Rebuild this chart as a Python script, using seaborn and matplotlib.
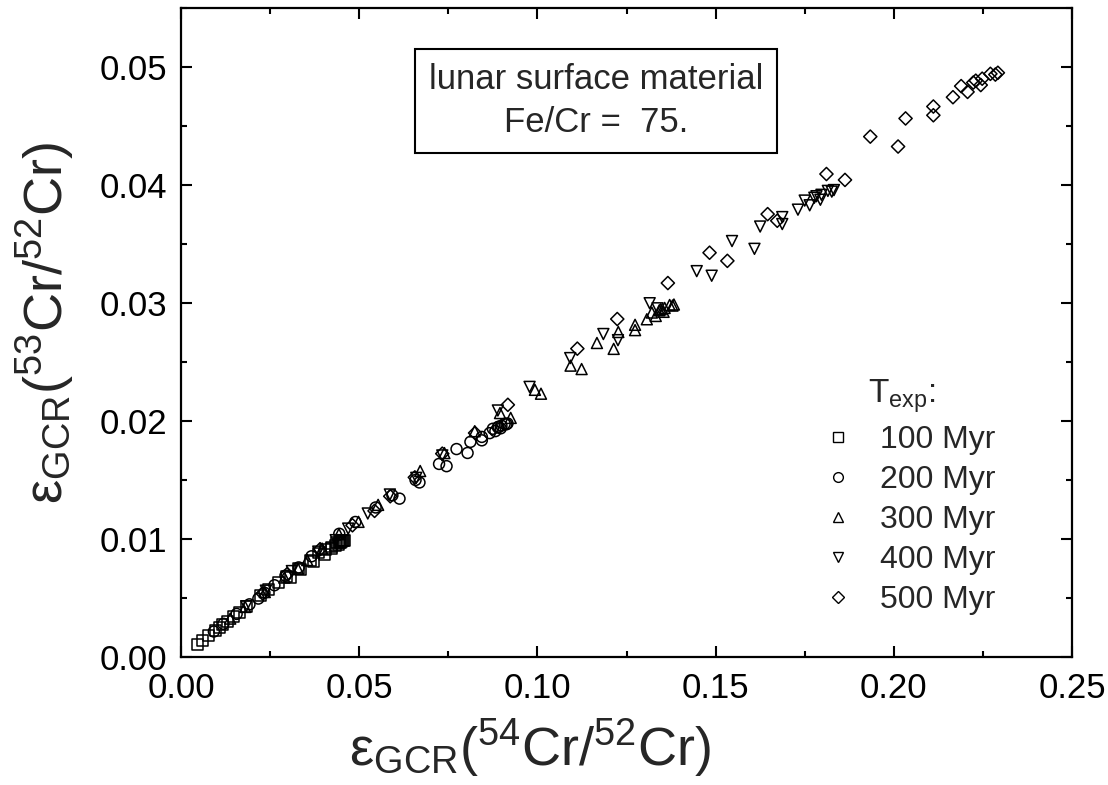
import numpy as np
import pandas as pd
import seaborn as sns
import matplotlib
matplotlib.use('Agg')
import matplotlib.pyplot as plt
from matplotlib.ticker import MultipleLocator

sns.set_style('ticks')
plt.rcParams['font.family'] = ['Liberation Sans', 'DejaVu Sans']
plt.rcParams['mathtext.fontset'] = 'custom'
plt.rcParams['mathtext.rm'] = 'Liberation Sans'
plt.rcParams['mathtext.it'] = 'Liberation Sans:italic'
plt.rcParams['mathtext.bf'] = 'Liberation Sans:bold'

# exposure ages and marker per series
exposure = ['100 Myr', '200 Myr', '300 Myr', '400 Myr', '500 Myr']
markers = ['s', 'o', '^', 'v', 'D']

# 100 Myr (squares)
x100 = [0.0046, 0.0060, 0.0078, 0.0096, 0.0109, 0.0117, 0.0131, 0.0147, 0.0165, 0.0183,
        0.0222, 0.0245, 0.0273, 0.0296, 0.0306, 0.0329, 0.0334, 0.0362, 0.0372, 0.0387,
        0.0402, 0.0406, 0.0422, 0.0422, 0.0433, 0.0437, 0.0441, 0.0444, 0.0446, 0.0448,
        0.0449, 0.0454, 0.0457, 0.0458]
y100 = [0.00108, 0.00141, 0.00182, 0.00223, 0.00248, 0.00272, 0.00304, 0.00345, 0.00379, 0.00427,
        0.00522, 0.00573, 0.00633, 0.00684, 0.00671, 0.00750, 0.00739, 0.00818, 0.00808, 0.00881,
        0.00865, 0.00912, 0.00932, 0.00917, 0.00948, 0.00967, 0.00957, 0.00973, 0.00976, 0.00968,
        0.00979, 0.00988, 0.00986, 0.00989]

# 200 Myr (circles)
x200 = [0.0092, 0.0119, 0.0156, 0.0192, 0.0217, 0.0234, 0.0262, 0.0293, 0.0330, 0.0366,
        0.0444, 0.0489, 0.0546, 0.0593, 0.0613, 0.0658, 0.0669, 0.0724, 0.0745, 0.0773,
        0.0804, 0.0812, 0.0844, 0.0844, 0.0866, 0.0875, 0.0882, 0.0889, 0.0891, 0.0897,
        0.0899, 0.0908, 0.0913, 0.0916]
y200 = [0.00216, 0.00281, 0.00365, 0.00446, 0.00495, 0.00544, 0.00608, 0.00689, 0.00759, 0.00853,
        0.01044, 0.01144, 0.01267, 0.01370, 0.01342, 0.01500, 0.01479, 0.01636, 0.01617, 0.01762,
        0.01729, 0.01823, 0.01865, 0.01836, 0.01897, 0.01934, 0.01914, 0.01947, 0.01951, 0.01938,
        0.01960, 0.01976, 0.01972, 0.01979]

# 300 Myr (up triangles)
x300 = [0.0138, 0.0180, 0.0235, 0.0290, 0.0328, 0.0354, 0.0396, 0.0443, 0.0498, 0.0553,
        0.0671, 0.0739, 0.0824, 0.0895, 0.0925, 0.0993, 0.1010, 0.1093, 0.1124, 0.1167,
        0.1214, 0.1227, 0.1274, 0.1274, 0.1307, 0.1321, 0.1332, 0.1342, 0.1346, 0.1354,
        0.1357, 0.1371, 0.1379, 0.1383]
y300 = [0.00325, 0.00424, 0.00550, 0.00673, 0.00748, 0.00821, 0.00918, 0.01040, 0.01145, 0.01289,
        0.01576, 0.01728, 0.01913, 0.02067, 0.02026, 0.02264, 0.02231, 0.02469, 0.02440, 0.02661,
        0.02611, 0.02754, 0.02815, 0.02770, 0.02862, 0.02919, 0.02890, 0.02938, 0.02947, 0.02925,
        0.02958, 0.02983, 0.02978, 0.02987]

# 400 Myr (down triangles)
x400 = [0.0183, 0.0238, 0.0311, 0.0385, 0.0434, 0.0469, 0.0524, 0.0586, 0.0660, 0.0733,
        0.0889, 0.0978, 0.1092, 0.1185, 0.1226, 0.1315, 0.1337, 0.1447, 0.1489, 0.1546,
        0.1609, 0.1625, 0.1687, 0.1687, 0.1731, 0.1750, 0.1764, 0.1777, 0.1783, 0.1794,
        0.1797, 0.1815, 0.1826, 0.1832]
y400 = [0.00430, 0.00562, 0.00728, 0.00893, 0.00990, 0.01088, 0.01216, 0.01377, 0.01518, 0.01708,
        0.02089, 0.02289, 0.02533, 0.02737, 0.02685, 0.02998, 0.02955, 0.03270, 0.03231, 0.03525,
        0.03459, 0.03648, 0.03728, 0.03669, 0.03791, 0.03868, 0.03828, 0.03892, 0.03905, 0.03875,
        0.03917, 0.03950, 0.03944, 0.03957]

# 500 Myr (diamonds)
x500 = [0.0229, 0.0298, 0.0390, 0.0481, 0.0543, 0.0587, 0.0656, 0.0733, 0.0825, 0.0917,
        0.1112, 0.1224, 0.1366, 0.1483, 0.1533, 0.1646, 0.1673, 0.1811, 0.1863, 0.1934,
        0.2012, 0.2033, 0.2111, 0.2111, 0.2166, 0.2189, 0.2207, 0.2223, 0.2230, 0.2244,
        0.2248, 0.2271, 0.2285, 0.2292]
y500 = [0.00538, 0.00703, 0.00913, 0.01116, 0.01238, 0.01362, 0.01522, 0.01723, 0.01898, 0.02137,
        0.02613, 0.02864, 0.03169, 0.03426, 0.03357, 0.03753, 0.03697, 0.04093, 0.04043, 0.04410,
        0.04326, 0.04564, 0.04665, 0.04591, 0.04744, 0.04838, 0.04789, 0.04868, 0.04884, 0.04847,
        0.04901, 0.04942, 0.04936, 0.04951]

xs = [x100, x200, x300, x400, x500]
ys = [y100, y200, y300, y400, y500]

df = pd.concat([pd.DataFrame({'x': x, 'y': y, 'T': t}) for x, y, t in zip(xs, ys, exposure)],
               ignore_index=True)

fig = plt.figure(figsize=(11.08, 7.85), dpi=100)
ax = fig.add_axes([0.1634, 0.1631, 0.8041, 0.8267])

for t, m in zip(exposure, markers):
    sub = df[df['T'] == t]
    size = 62 if m != 'D' else 45
    sns.scatterplot(data=sub, x='x', y='y', marker=m, s=size, facecolors='none',
                    edgecolors='black', linewidths=1.1, label=t, ax=ax, legend=False)

ax.set_xlim(0, 0.25)
ax.set_ylim(0, 0.055)
ax.xaxis.set_major_locator(MultipleLocator(0.05))
ax.xaxis.set_minor_locator(MultipleLocator(0.025))
ax.yaxis.set_major_locator(MultipleLocator(0.01))
ax.yaxis.set_minor_locator(MultipleLocator(0.005))
ax.xaxis.set_major_formatter(plt.FormatStrFormatter('%.2f'))
ax.yaxis.set_major_formatter(plt.FormatStrFormatter('%.2f'))
ax.tick_params(which='both', direction='in', top=True, right=True, width=1.5, colors='black')
ax.tick_params(which='major', length=8, labelsize=25)
ax.tick_params(which='minor', length=4.5)
ax.tick_params(axis='x', pad=11)
ax.tick_params(axis='y', pad=10)
for sp in ax.spines.values():
    sp.set_linewidth(1.6)
    sp.set_color('black')

ax.set_xlabel(r'ε$_{\mathrm{GCR}}$($^{54}$Cr/$^{52}$Cr)', fontsize=39)
ax.set_ylabel(r'ε$_{\mathrm{GCR}}$($^{53}$Cr/$^{52}$Cr)', fontsize=39)
ax.xaxis.set_label_coords(0.392, -0.092)
ax.yaxis.set_label_coords(-0.118, 0.515)

ax.text(0.466, 0.857, 'lunar surface material\nFe/Cr =  75.', transform=ax.transAxes,
        ha='center', va='center', fontsize=25, linespacing=1.4,
        bbox=dict(boxstyle='square,pad=0.4', fc='white', ec='black', lw=1.5))

handles = [plt.Line2D([], [], ls='none', marker=m, mfc='none', mec='black', mew=1.0,
                      ms=7 if m != 'D' else 6) for m in markers]
fig.legend(handles, exposure, loc='upper left', bbox_to_anchor=(0.742, 0.4585),
           frameon=False, fontsize=23, handlelength=1.0, handletextpad=0.8,
           labelspacing=0.31, borderpad=0, borderaxespad=0)
fig.text(868 / 1108, 1 - 403 / 785, r'T$_{\mathrm{exp}}$:', fontsize=24, ha='left', va='baseline')

fig.savefig('out.png', dpi=100)
